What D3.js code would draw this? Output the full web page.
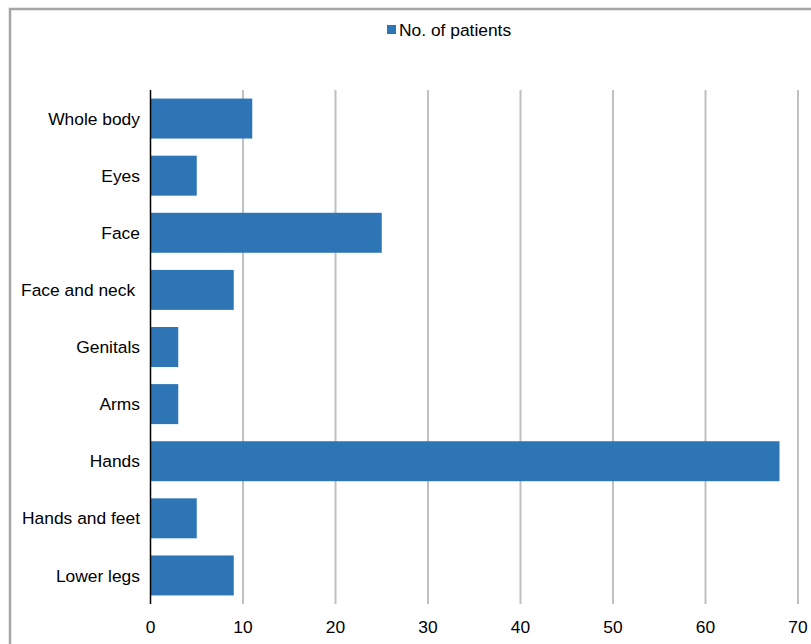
<!DOCTYPE html>
<html>
<head>
<meta charset="utf-8">
<script src="https://cdn.jsdelivr.net/npm/d3@7"></script>
<style>
  body { margin: 0; background: #fff; }
  svg { font-family: "Liberation Sans", Arial, sans-serif; }
  text { white-space: pre; }
</style>
</head>
<body>
<script>
// data
const sites = ['Whole body', 'Eyes', 'Face', 'Face and neck ', 'Genitals', 'Arms', 'Hands', 'Hands and feet', 'Lower legs'];
const patients = [11, 5, 25, 9, 3, 3, 68, 5, 9];
const xTicks = [0, 10, 20, 30, 40, 50, 60, 70];
const seriesName = 'No. of patients';

const width = 811;
const height = 644;
const margin = { top: 90, right: 13, bottom: 40, left: 150.5 };
const barColor = '#2e75b6';
const fontSize = 17.4;

const svg = d3.select('body').append('svg')
  .attr('width', width)
  .attr('height', height);

// outer frame (right and bottom edges run off the picture)
svg.append('rect')
  .attr('x', 10).attr('y', 9)
  .attr('width', 820).attr('height', 660)
  .attr('fill', 'none')
  .attr('stroke', '#a6a6a6')
  .attr('stroke-width', 2.5);

const x = d3.scaleLinear()
  .domain([0, 70])
  .range([margin.left, 798]);

const y = d3.scaleBand()
  .domain(sites)
  .range([margin.top, 604])
  .paddingInner(0.3)
  .paddingOuter(0.15);

// vertical gridlines
svg.append('g')
  .selectAll('line')
  .data(xTicks.filter((d) => d > 0))
  .join('line')
  .attr('x1', (d) => x(d)).attr('x2', (d) => x(d))
  .attr('y1', margin.top).attr('y2', 604)
  .attr('stroke', '#c0c0c0')
  .attr('stroke-width', 2);

// bars
svg.append('g')
  .selectAll('rect')
  .data(sites)
  .join('rect')
  .attr('x', x(0))
  .attr('y', (d) => y(d))
  .attr('width', (d, i) => x(patients[i]) - x(0))
  .attr('height', y.bandwidth())
  .attr('fill', barColor);

// zero axis line
svg.append('line')
  .attr('x1', x(0)).attr('x2', x(0))
  .attr('y1', margin.top).attr('y2', 604)
  .attr('stroke', '#000')
  .attr('stroke-width', 1.5);

// category labels
svg.append('g')
  .selectAll('text')
  .data(sites)
  .join('text')
  .attr('x', 140)
  .attr('y', (d) => y(d) + y.bandwidth() / 2)
  .attr('dy', '0.35em')
  .attr('text-anchor', 'end')
  .attr('font-size', fontSize)
  .attr('fill', '#000')
  .text((d) => d);

// x tick labels
svg.append('g')
  .selectAll('text')
  .data(xTicks)
  .join('text')
  .attr('x', (d) => x(d))
  .attr('y', 633)
  .attr('text-anchor', 'middle')
  .attr('font-size', fontSize)
  .attr('fill', '#000')
  .text((d) => d);

// legend
const legend = svg.append('g');
legend.append('rect')
  .attr('x', 387).attr('y', 25)
  .attr('width', 9).attr('height', 9)
  .attr('fill', barColor);
legend.append('text')
  .attr('x', 399).attr('y', 36)
  .attr('font-size', fontSize)
  .attr('fill', '#000')
  .text(seriesName);
</script>
</body>
</html>
